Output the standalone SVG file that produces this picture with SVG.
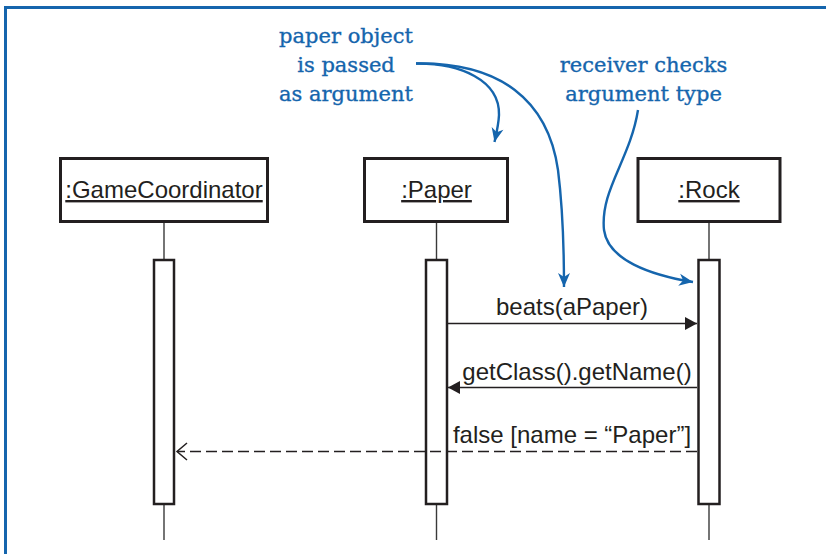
<svg xmlns="http://www.w3.org/2000/svg" width="826" height="554" viewBox="0 0 826 554">
  <style>
    .box { fill: #ffffff; stroke: #231f20; stroke-width: 3; }
    .act { fill: #ffffff; stroke: #231f20; stroke-width: 2.5; }
    .life { stroke: #3a3a3a; stroke-width: 1.4; fill: none; }
    .lbl { font-family: "Liberation Sans", Arial, sans-serif; font-size: 24px; fill: #231f20; text-anchor: middle; text-decoration: underline; }
    .msg { font-family: "Liberation Sans", Arial, sans-serif; font-size: 24px; fill: #231f20; text-anchor: middle; }
    .call { stroke: #231f20; stroke-width: 1.5; fill: none; }
    .ret { stroke: #231f20; stroke-width: 1.5; fill: none; stroke-dasharray: 11 5; }
    .note { font-family: "DejaVu Serif", "Liberation Serif", serif; font-size: 21px; fill: #1565ad; stroke: #1565ad; stroke-width: 0.35; text-anchor: middle; }
    .curve { stroke: #1565ad; stroke-width: 2.4; fill: none; }
  </style>
  <defs>
    <marker id="filled" markerUnits="userSpaceOnUse" markerWidth="14" markerHeight="14" viewBox="-13 -7 14 14" refX="0" refY="0" orient="auto">
      <path d="M0,0 L-12,-6.5 L-12,6.5 Z" fill="#231f20"/>
    </marker>
    <marker id="open" markerUnits="userSpaceOnUse" markerWidth="14" markerHeight="20" viewBox="-12 -10 14 20" refX="0" refY="0" orient="auto">
      <path d="M-10,-8.5 L0,0 L-10,8.5" fill="none" stroke="#231f20" stroke-width="1.5"/>
    </marker>
    <marker id="blue" markerUnits="userSpaceOnUse" markerWidth="16" markerHeight="14" viewBox="-15 -7 16 14" refX="0" refY="0" orient="auto">
      <path d="M0,0 L-14,-6 L-10,0 L-14,6 Z" fill="#1565ad"/>
    </marker>
  </defs>

  <rect x="5.5" y="7.5" width="900" height="700" fill="#ffffff" stroke="#1565ad" stroke-width="3"/>

  <g id="gameCoordinator">
    <rect class="box" x="60.5" y="158.5" width="207" height="63"/>
    <text class="lbl" x="164" y="198">:GameCoordinator</text>
    <line class="life" x1="164" y1="223" x2="164" y2="540"/>
    <rect class="act" x="154" y="260" width="20" height="244"/>
  </g>

  <g id="paper">
    <rect class="box" x="364.5" y="158.5" width="143" height="63"/>
    <text class="lbl" x="436.5" y="198">:Paper</text>
    <line class="life" x1="436.5" y1="223" x2="436.5" y2="540"/>
    <rect class="act" x="426" y="260" width="21" height="244"/>
  </g>

  <g id="rock">
    <rect class="box" x="638" y="158.5" width="142" height="63"/>
    <text class="lbl" x="709" y="198">:Rock</text>
    <line class="life" x1="709" y1="223" x2="709" y2="540"/>
    <rect class="act" x="698.5" y="260" width="21" height="244"/>
  </g>

  <g id="note-argument">
    <text class="note" x="346" y="43">paper object</text>
    <text class="note" x="346" y="72">is passed</text>
    <text class="note" x="346" y="101">as argument</text>
  </g>

  <g id="note-receiver">
    <text class="note" x="643.5" y="72">receiver checks</text>
    <text class="note" x="643.5" y="101">argument type</text>
  </g>

  <g id="connectors">
    <line class="call" x1="448" y1="323.5" x2="697" y2="323.5" marker-end="url(#filled)"/>
    <text class="msg" x="572" y="315">beats(aPaper)</text>

    <line class="call" x1="697" y1="387.5" x2="448" y2="387.5" marker-end="url(#filled)"/>
    <text class="msg" x="577" y="380">getClass().getName()</text>

    <line class="ret" x1="697" y1="451.5" x2="177" y2="451.5" marker-end="url(#open)"/>
    <text class="msg" x="572" y="443">false [name = “Paper”]</text>

    <path class="curve" d="M416,63.5 C460,63 500,80 499,115 C498.5,125 496.5,133 494.5,142" marker-end="url(#blue)"/>
    <path class="curve" d="M416,63.5 C500,62 548,100 558,170 C563,210 564,250 564,287" marker-end="url(#blue)"/>
    <path class="curve" d="M638,110 C630,160 600,190 604,230 C608,260 650,275 693,282" marker-end="url(#blue)"/>
  </g>
</svg>
